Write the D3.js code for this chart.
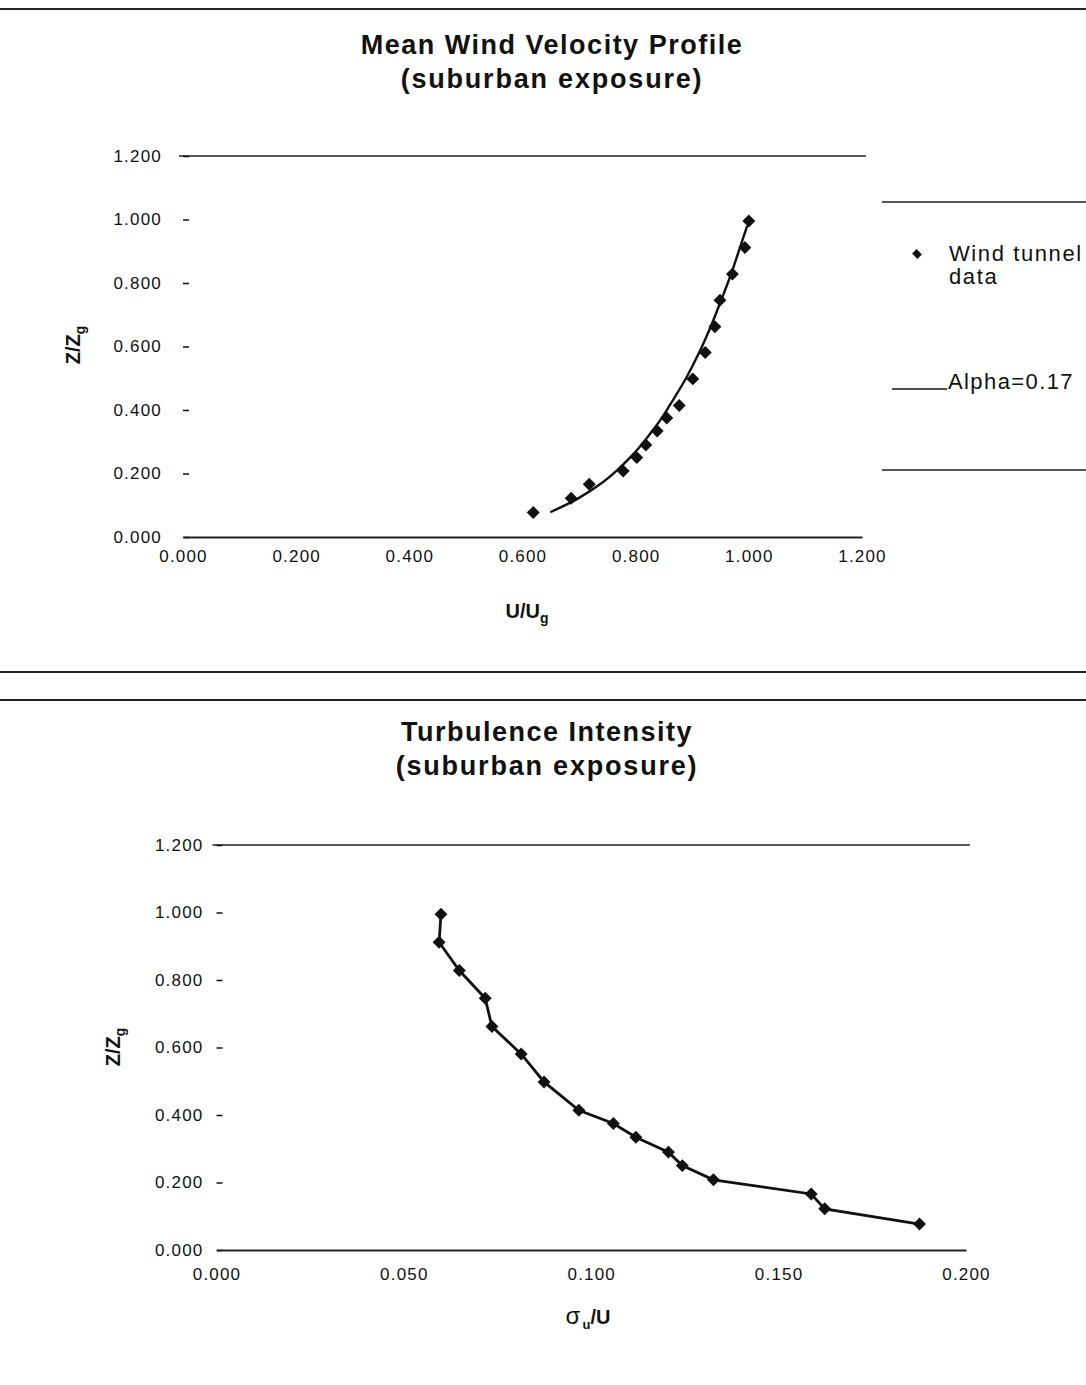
<!DOCTYPE html>
<html>
<head>
<meta charset="utf-8">
<script src="https://cdn.jsdelivr.net/npm/d3@7"></script>
<style>
    body { margin: 0; background: #fff; }
    svg { display: block; font-family: "Liberation Sans", Arial, sans-serif; }
</style>
</head>
<body>
<svg id="chart" width="1086" height="1385"></svg>
<script>
// Measurement heights Z/Zg (same 16 stations for both profiles)
const zHeights = [0.077, 0.122, 0.166, 0.208, 0.250, 0.290, 0.334, 0.375, 0.414, 0.498, 0.581, 0.662, 0.746, 0.828, 0.912, 0.995];
// Mean velocity U/Ug at each height (wind tunnel)
const meanVelocity = [0.619, 0.686, 0.718, 0.778, 0.802, 0.818, 0.838, 0.855, 0.877, 0.901, 0.923, 0.940, 0.949, 0.971, 0.993, 1.000];
// Turbulence intensity sigma_u/U at each height
const turbIntensity = [0.1876, 0.1623, 0.1587, 0.1326, 0.1243, 0.1206, 0.1119, 0.1059, 0.0967, 0.0874, 0.0813, 0.0735, 0.0717, 0.0648, 0.0594, 0.0599];
// Power law curve (alpha = 0.17)
const alphaZ = [0.078, 0.12, 0.17, 0.21, 0.25, 0.29, 0.34, 0.38, 0.42, 0.50, 0.58, 0.66, 0.75, 0.83, 0.91, 0.98];
const alphaU = [0.649, 0.697, 0.740, 0.767, 0.790, 0.810, 0.832, 0.848, 0.862, 0.889, 0.912, 0.932, 0.952, 0.969, 0.984, 0.997];

const heightTicks = [0, 0.2, 0.4, 0.6, 0.8, 1.0, 1.2];
const velocityTicks = [0, 0.2, 0.4, 0.6, 0.8, 1.0, 1.2];
const intensityTicks = [0, 0.05, 0.1, 0.15, 0.2];
const legendLabels = ['Wind tunnel', 'data', 'Alpha=0.17'];

const svg = d3.select('#chart');
const fmt = d3.format('.3f');
const ink = '#111';

svg.append('rect').attr('width', 1086).attr('height', 1385).attr('fill', '#fff');

// full-width rules of the scanned page
[9, 672, 700].forEach((yy) => {
    svg.append('line')
        .attr('x1', 0).attr('x2', 1086).attr('y1', yy).attr('y2', yy)
        .attr('stroke', '#222').attr('stroke-width', 2);
});

const diamond = d3.symbol(d3.symbolSquare, 84);

// Draw one panel: titles, axes, and the 1.200 line
function drawPanel(p) {
    let x = d3.scaleLinear().domain([0, p.xMax]).range([p.left, p.right]);
    let y = d3.scaleLinear().domain([0, 1.2]).range([p.bottom, p.top]);

    svg.append('text')
        .attr('x', p.titleX).attr('y', p.titleY)
        .attr('text-anchor', 'middle')
        .attr('font-size', 27).attr('font-weight', 'bold')
        .attr('letter-spacing', 1.5).attr('fill', ink)
        .text(p.title);
    svg.append('text')
        .attr('x', p.titleX).attr('y', p.titleY + 34)
        .attr('text-anchor', 'middle')
        .attr('font-size', 27).attr('font-weight', 'bold')
        .attr('letter-spacing', 1.8).attr('fill', ink)
        .text('(suburban exposure)');

    // top line at 1.200
    svg.append('line')
        .attr('x1', p.left - 4).attr('x2', p.right + 4)
        .attr('y1', y(1.2)).attr('y2', y(1.2))
        .attr('stroke', '#222').attr('stroke-width', 1.5);

    let gy = svg.append('g')
        .attr('transform', `translate(${p.left},0)`)
        .call(d3.axisLeft(y)
            .tickValues(heightTicks)
            .tickFormat(fmt)
            .tickSizeInner(-6)
            .tickSizeOuter(0)
            .tickPadding(p.yPad));
    gy.select('.domain').remove();
    gy.selectAll('.tick line').attr('stroke', ink).attr('stroke-width', 1.5);
    gy.selectAll('.tick text')
        .attr('font-size', 17).attr('letter-spacing', 1.2)
        .attr('font-family', '"Liberation Sans", Arial, sans-serif')
        .attr('fill', ink);

    let gx = svg.append('g')
        .attr('transform', `translate(0,${p.bottom})`)
        .call(d3.axisBottom(x)
            .tickValues(p.xTicks)
            .tickFormat(fmt)
            .tickSize(0)
            .tickPadding(p.xPad));
    gx.select('.domain').attr('stroke', '#222').attr('stroke-width', 2);
    gx.selectAll('.tick text')
        .attr('font-size', 17).attr('letter-spacing', 1.2)
        .attr('font-family', '"Liberation Sans", Arial, sans-serif')
        .attr('fill', ink);

    // rotated Z/Zg label
    let yl = svg.append('text')
        .attr('transform', `translate(${p.yLabelX},${p.yLabelY}) rotate(-90)`)
        .attr('text-anchor', 'middle')
        .attr('font-size', 20).attr('font-weight', 'bold').attr('fill', ink);
    yl.append('tspan').text('Z/Z');
    yl.append('tspan').attr('font-size', 14).attr('dy', 5).text('g');

    return { x, y };
}

// ---- top panel: mean wind velocity ----
let velPanel = drawPanel({
    title: 'Mean Wind Velocity Profile', titleX: 552, titleY: 54,
    left: 183, right: 862, top: 156, bottom: 537,
    xMax: 1.2, xTicks: velocityTicks, xPad: 13, yPad: 21,
    yLabelX: 80, yLabelY: 345
});

let xl = svg.append('text')
    .attr('x', 527).attr('y', 618)
    .attr('text-anchor', 'middle')
    .attr('font-size', 20).attr('font-weight', 'bold').attr('fill', ink);
xl.append('tspan').text('U/U');
xl.append('tspan').attr('font-size', 14).attr('dy', 5).text('g');

let alphaLine = d3.line()
    .x((d, i) => velPanel.x(alphaU[i]))
    .y((d) => velPanel.y(d))
    .curve(d3.curveCatmullRom);
svg.append('path')
    .attr('d', alphaLine(alphaZ))
    .attr('fill', 'none').attr('stroke', ink).attr('stroke-width', 2.4);

svg.append('g').selectAll('path')
    .data(zHeights)
    .enter().append('path')
    .attr('d', diamond)
    .attr('transform', (d, i) => `translate(${velPanel.x(meanVelocity[i])},${velPanel.y(d)}) rotate(45)`)
    .attr('fill', ink);

// legend box
[202, 470].forEach((yy) => {
    svg.append('line')
        .attr('x1', 882).attr('x2', 1086).attr('y1', yy).attr('y2', yy)
        .attr('stroke', '#222').attr('stroke-width', 1.5);
});
svg.append('path')
    .attr('d', d3.symbol(d3.symbolSquare, 56))
    .attr('transform', 'translate(917,254) rotate(45) scale(1,0.85)')
    .attr('fill', ink);
svg.append('text').attr('x', 949).attr('y', 261)
    .attr('font-size', 22).attr('letter-spacing', 1.6).attr('fill', ink)
    .text(legendLabels[0]);
svg.append('text').attr('x', 949).attr('y', 284)
    .attr('font-size', 22).attr('letter-spacing', 1.6).attr('fill', ink)
    .text(legendLabels[1]);
svg.append('line')
    .attr('x1', 892).attr('x2', 947).attr('y1', 389).attr('y2', 389)
    .attr('stroke', ink).attr('stroke-width', 1.6);
svg.append('text').attr('x', 948).attr('y', 389)
    .attr('font-size', 22).attr('letter-spacing', 1.4).attr('fill', ink)
    .text(legendLabels[2]);

// ---- bottom panel: turbulence intensity ----
let tiPanel = drawPanel({
    title: 'Turbulence Intensity', titleX: 547, titleY: 741,
    left: 216.5, right: 966, top: 845, bottom: 1250,
    xMax: 0.2, xTicks: intensityTicks, xPad: 18, yPad: 13,
    yLabelX: 120, yLabelY: 1047
});

let sl = svg.append('text')
    .attr('x', 588).attr('y', 1324)
    .attr('text-anchor', 'middle')
    .attr('font-size', 20).attr('font-weight', 'bold').attr('fill', ink);
sl.append('tspan').attr('font-weight', 'normal').attr('font-size', 24).text('σ');
sl.append('tspan').attr('font-size', 13).attr('dy', 5).attr('dx', 2).text('u');
sl.append('tspan').attr('dy', -5).text('/U');

let tiLine = d3.line()
    .x((d, i) => tiPanel.x(turbIntensity[i]))
    .y((d) => tiPanel.y(d));
svg.append('path')
    .attr('d', tiLine(zHeights))
    .attr('fill', 'none').attr('stroke', ink).attr('stroke-width', 2.8);

svg.append('g').selectAll('path')
    .data(zHeights)
    .enter().append('path')
    .attr('d', diamond)
    .attr('transform', (d, i) => `translate(${tiPanel.x(turbIntensity[i])},${tiPanel.y(d)}) rotate(45)`)
    .attr('fill', ink);
</script>
</body>
</html>
